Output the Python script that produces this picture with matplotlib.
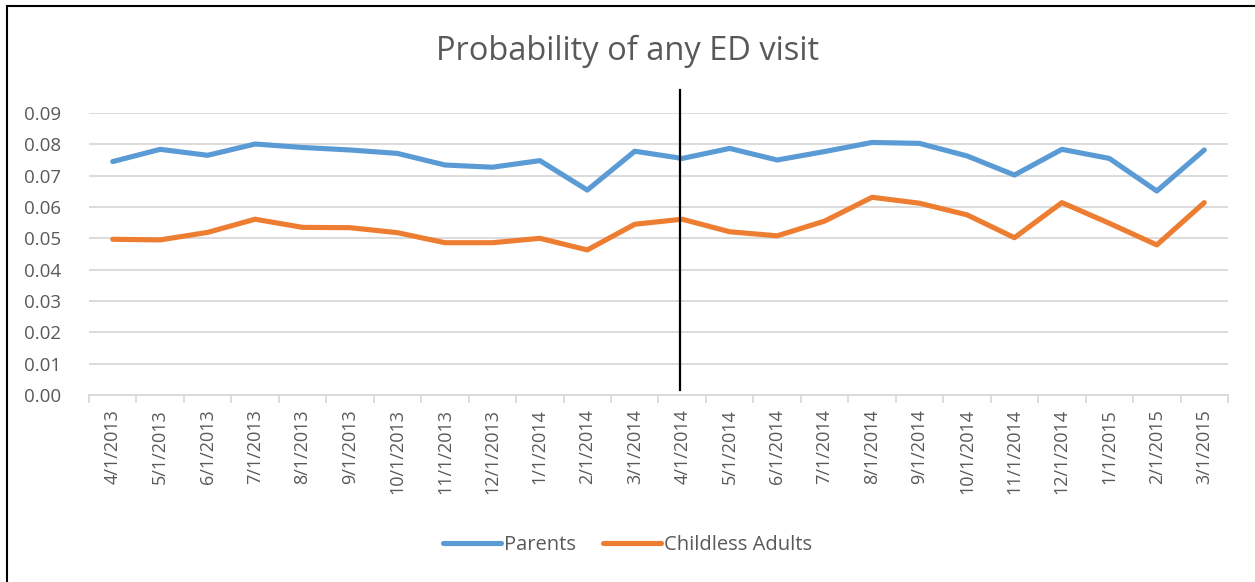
import matplotlib
matplotlib.use("Agg")
import matplotlib.pyplot as plt
from matplotlib.lines import Line2D

# Monthly dates shown on the category axis
months = ["4/1/2013", "5/1/2013", "6/1/2013", "7/1/2013", "8/1/2013", "9/1/2013",
          "10/1/2013", "11/1/2013", "12/1/2013", "1/1/2014", "2/1/2014", "3/1/2014",
          "4/1/2014", "5/1/2014", "6/1/2014", "7/1/2014", "8/1/2014", "9/1/2014",
          "10/1/2014", "11/1/2014", "12/1/2014", "1/1/2015", "2/1/2015", "3/1/2015"]

parents = [0.0745, 0.0784, 0.0765, 0.0801, 0.0790, 0.0782, 0.0771, 0.0734,
           0.0727, 0.0748, 0.0654, 0.0778, 0.0755, 0.0787, 0.0750, 0.0777,
           0.0806, 0.0803, 0.0763, 0.0702, 0.0784, 0.0755, 0.0651, 0.0782]

childless = [0.0497, 0.0495, 0.0519, 0.0561, 0.0535, 0.0534, 0.0518, 0.0486,
             0.0486, 0.0500, 0.0463, 0.0545, 0.0561, 0.0521, 0.0508, 0.0555,
             0.0631, 0.0612, 0.0575, 0.0502, 0.0614, 0.0548, 0.0479, 0.0614]

y_ticks = [0.00, 0.01, 0.02, 0.03, 0.04, 0.05, 0.06, 0.07, 0.08, 0.09]
policy_month = "4/1/2014"

plt.rcParams["font.family"] = ["Open Sans", "DejaVu Sans"]
TXT = "#595959"
GRID = "#d9d9d9"
BLUE = "#5B9BD5"
ORANGE = "#ED7D31"
LW = 3.7

W, H = 1255, 582
fig = plt.figure(figsize=(W / 100, H / 100), dpi=100)
ax = fig.add_axes([89 / W, 1 - 395 / H, (1228 - 89) / W, (395 - 113) / H])

x = list(range(len(months)))
ax.plot(x, parents, color=BLUE, lw=LW, solid_capstyle="round",
        solid_joinstyle="round", label="Parents", zorder=3)
ax.plot(x, childless, color=ORANGE, lw=LW, solid_capstyle="round",
        solid_joinstyle="round", label="Childless Adults", zorder=3)

ax.set_xlim(-0.5, len(months) - 0.5)
ax.set_ylim(0, 0.09)
ax.set_yticks(y_ticks)
ax.set_yticklabels([f"{v:.2f}" for v in y_ticks])
ax.yaxis.grid(True, color=GRID, lw=1.3)
ax.set_axisbelow(True)

# category labels at centres, tick marks at category boundaries
ax.set_xticks(x)
ax.set_xticklabels(months, rotation=90, color=TXT, fontsize=13)
ax.set_xticks([i - 0.5 for i in range(len(months) + 1)], minor=True)
ax.tick_params(axis="x", which="major", length=0, pad=10)
ax.tick_params(axis="x", which="minor", length=6, width=1.3, color=GRID)
ax.tick_params(axis="y", length=0, labelsize=13.5, labelcolor=TXT, pad=20)

for s in ["top", "right", "left"]:
    ax.spines[s].set_visible(False)
ax.spines["bottom"].set_color(GRID)
ax.spines["bottom"].set_linewidth(1.3)

# policy change marker
xi = months.index(policy_month) - 0.05
ax.plot([xi, xi], [0.0016, 0.0973], color="black", lw=1.6, clip_on=False, zorder=4)

fig.text(0.5, 1 - 51 / H, "Probability of any ED visit", ha="center", va="center",
         fontsize=23.5, color=TXT)

leg = fig.legend(handles=[Line2D([], [], color=BLUE, lw=LW, solid_capstyle="round"),
                          Line2D([], [], color=ORANGE, lw=LW, solid_capstyle="round")],
                 labels=["Parents", "Childless Adults"], loc="center",
                 bbox_to_anchor=(0.5, 1 - 545 / H), ncol=2, frameon=False,
                 fontsize=14.5, handlelength=2.9, handletextpad=0.15, columnspacing=1.3)
for t in leg.get_texts():
    t.set_color(TXT)

# chart frame
fig.add_artist(Line2D([7 / W, 7 / W], [0, 1 - 6 / H], color="black", lw=1.5))
fig.add_artist(Line2D([7 / W, 1], [1 - 6 / H, 1 - 6 / H], color="black", lw=1.5))

fig.savefig("out.png", dpi=100, facecolor="white")
